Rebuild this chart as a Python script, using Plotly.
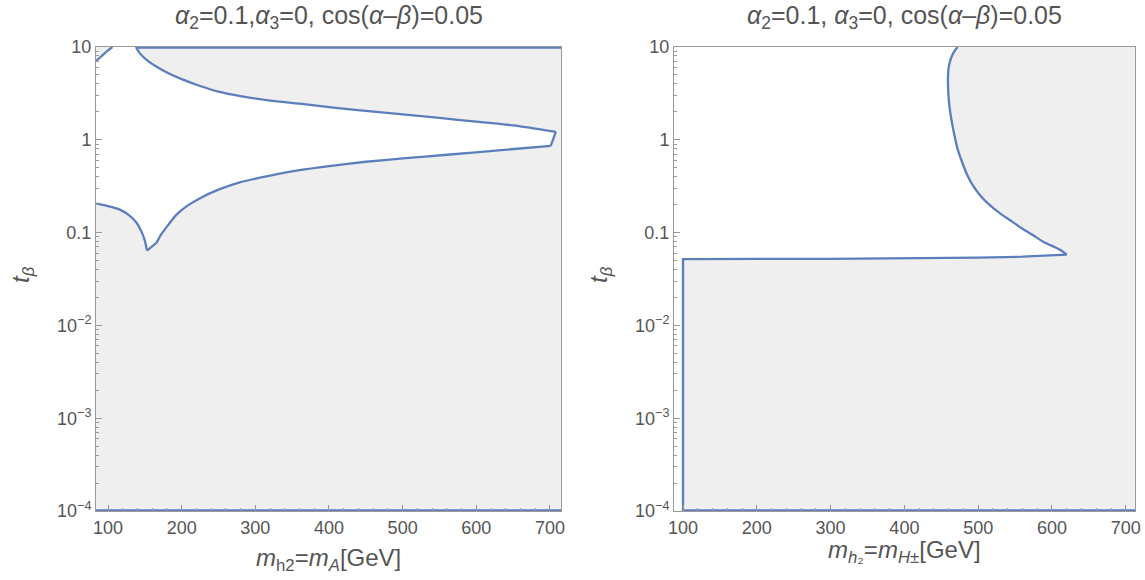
import plotly.graph_objects as go

# ---------------- data ----------------
# Left panel: lower boundary of the allowed band
left_lower_x = [84, 100, 116, 128, 139, 146, 150, 153, 166, 172, 180, 193, 208, 225, 250, 280, 320,
                360, 400, 450, 500, 560, 630, 701]
left_lower_y = [0.205, 0.193, 0.177, 0.155, 0.127, 0.10, 0.082, 0.064, 0.078, 0.095, 0.116, 0.156,
                0.195, 0.235, 0.29, 0.35, 0.41, 0.47, 0.52, 0.58, 0.63, 0.69, 0.77, 0.86]
# Left panel: upper boundary of the allowed band (from right tip back to the top edge)
left_upper_x = [708, 650, 600, 550, 500, 450, 400, 360, 320, 280, 250, 225, 200, 180, 165, 155, 148,
                142, 138]
left_upper_y = [1.22, 1.43, 1.57, 1.72, 1.88, 2.05, 2.25, 2.45, 2.65, 2.95, 3.3, 3.8, 4.5, 5.3, 6.2,
                7.0, 7.8, 8.8, 10.0]
# Left panel: small top-left excluded corner
left_corner_x = [84, 90, 95, 100, 106]
left_corner_y = [7.1, 7.8, 8.5, 9.2, 10.0]

# Right panel: boundary (vertical wall, nearly flat floor, then the curve up to the top)
right_wall_x = [100, 100]
right_wall_y = [1e-4, 0.0518]
right_floor_x = [100, 300, 420, 500, 560, 600, 620]
right_floor_y = [0.0518, 0.0522, 0.0528, 0.0537, 0.0550, 0.0563, 0.058]
right_curve_x = [620, 614, 605, 590, 574, 560, 545, 530, 515, 503, 493, 485, 478, 472, 468, 464, 461,
                 459.5, 459, 460, 463, 467, 472]
right_curve_y = [0.058, 0.063, 0.069, 0.078, 0.094, 0.11, 0.133, 0.16, 0.2, 0.25, 0.32, 0.42, 0.58,
                 0.8, 1.1, 1.6, 2.3, 3.2, 4.5, 6.0, 7.5, 8.8, 10.0]

x_ticks = [100, 200, 300, 400, 500, 600, 700]
y_tickvals = [1e-4, 1e-3, 1e-2, 0.1, 1, 10]
y_ticktext = ["10<sup>−4</sup>", "10<sup>−3</sup>", "10<sup>−2</sup>", "0.1", "1", "10"]

left_title = "<i>α</i><sub>2</sub>=0.1,<i>α</i><sub>3</sub>=0, cos(<i>α</i>–<i>β</i>)=0.05"
right_title = "<i>α</i><sub>2</sub>=0.1, <i>α</i><sub>3</sub>=0, cos(<i>α</i>–<i>β</i>)=0.05"
left_xlabel = "<i>m</i><sub>h2</sub>=<i>m</i><sub><i>A</i></sub>[GeV]"
right_xlabel = "<i>m</i><sub><i>h</i>₂</sub>=<i>m</i><sub><i>H</i>±</sub>[GeV]"
y_label = "<i>t</i><sub><i>β</i></sub>"

left_xrange = [83.7, 715]
right_xrange = [87.8, 712.5]
y_min, y_max = 1e-4, 10

# ---------------- styling ----------------
BLUE = "#5b7fbd"
GREY_BG = "#efefef"
FRAME = "#9a9a9a"
TXT = "#555555"
FONT = "Liberation Sans, Arial, sans-serif"

fig = go.Figure()


def line(x, y, xa, ya, width=2.3, shape="linear"):
    fig.add_trace(go.Scatter(x=x, y=y, mode="lines", line=dict(color=BLUE, width=width, shape=shape,
                                                                 smoothing=0.6),
                             xaxis=xa, yaxis=ya, showlegend=False, hoverinfo="skip"))


# Left panel allowed (white) region
lx = (left_lower_x + left_upper_x + left_corner_x[::-1] + [left_lower_x[0]])
ly = (left_lower_y + left_upper_y + left_corner_y[::-1] + [left_lower_y[0]])
fig.add_trace(go.Scatter(x=lx, y=ly, fill="toself", fillcolor="white", mode="lines",
                         line=dict(width=0, color="white"), xaxis="x", yaxis="y",
                         hoverinfo="skip", showlegend=False))
# Left panel boundaries (smooth pieces split at the cusp, the kink and the right tip)
cusp = left_lower_x.index(153)
kink = left_lower_x.index(166)
line(left_lower_x[:cusp + 1], left_lower_y[:cusp + 1], "x", "y", shape="spline")
line(left_lower_x[cusp:kink + 1], left_lower_y[cusp:kink + 1], "x", "y")
line(left_lower_x[kink:], left_lower_y[kink:], "x", "y", shape="spline")
line([left_lower_x[-1], left_upper_x[0]], [left_lower_y[-1], left_upper_y[0]], "x", "y")
line(left_upper_x, left_upper_y, "x", "y", shape="spline")
line([left_upper_x[-1], left_xrange[1]], [y_max, y_max], "x", "y", width=3.5)
line(left_corner_x, left_corner_y, "x", "y", shape="spline")
line([left_xrange[0], left_xrange[1]], [y_min, y_min], "x", "y", width=3.5)

# Right panel allowed (white) region
rx = ([right_xrange[0], right_wall_x[0]] + right_wall_x[1:] + right_floor_x[1:] + right_curve_x[1:] +
      [right_xrange[0]])
ry = ([y_min, right_wall_y[0]] + right_wall_y[1:] + right_floor_y[1:] + right_curve_y[1:] + [y_max])
fig.add_trace(go.Scatter(x=rx, y=ry, fill="toself", fillcolor="white", mode="lines",
                         line=dict(width=0, color="white"), xaxis="x2", yaxis="y2",
                         hoverinfo="skip", showlegend=False))
line(right_wall_x + right_floor_x[1:], right_wall_y + right_floor_y[1:], "x2", "y2")
line(right_curve_x, right_curve_y, "x2", "y2", shape="spline")
line([right_wall_x[0], right_xrange[1]], [y_min, y_min], "x2", "y2", width=3.5)

minor_y = [m * 10 ** e for e in range(-4, 1) for m in range(2, 10)]


def xaxis_cfg(domain, rng, anchor):
    return dict(domain=domain, range=rng, tickvals=x_ticks, ticks="inside", ticklen=6,
                tickcolor=FRAME, showgrid=False, zeroline=False, showline=True, linecolor=FRAME,
                linewidth=1, mirror=True, tickfont=dict(family=FONT, size=18, color=TXT),
                minor=dict(tickvals=list(range(120, 720, 20)), ticks="inside", ticklen=3, tickcolor=FRAME),
                fixedrange=True, automargin=False, anchor=anchor)


def yaxis_cfg(domain, anchor):
    return dict(domain=domain, type="log", range=[-4, 1], tickvals=y_tickvals, ticktext=y_ticktext,
                ticks="inside", ticklen=6, tickcolor=FRAME, showgrid=False, zeroline=False,
                showline=True, linecolor=FRAME, linewidth=1, mirror=True, anchor=anchor,
                tickfont=dict(family=FONT, size=18, color=TXT),
                minor=dict(tickvals=minor_y, ticks="inside", ticklen=3, tickcolor=FRAME),
                fixedrange=True, automargin=False)


W, H = 1145, 580
ydom = [1 - 511 / H, 1 - 47 / H]
fig.update_layout(
    width=W, height=H, margin=dict(l=0, r=0, t=0, b=0, autoexpand=False),
    paper_bgcolor="white", plot_bgcolor=GREY_BG,
    xaxis=xaxis_cfg([96 / W, 561 / W], left_xrange, "y"),
    yaxis=yaxis_cfg(ydom, "x"),
    xaxis2=xaxis_cfg([674 / W, 1135 / W], right_xrange, "y2"),
    yaxis2=yaxis_cfg(ydom, "x2"),
    showlegend=False,
)

anns = [
    dict(text=left_title, x=(96 + 561) / 2 / W, y=1 - 17 / H, size=25),
    dict(text=right_title, x=(674 + 1135) / 2 / W, y=1 - 17 / H, size=25),
    dict(text=left_xlabel, x=(96 + 561) / 2 / W, y=1 - 559 / H, size=24),
    dict(text=right_xlabel, x=(674 + 1135) / 2 / W, y=1 - 551 / H, size=24),
    dict(text=y_label, x=22 / W, y=1 - 275 / H, textangle=-90, size=24),
    dict(text=y_label, x=600 / W, y=1 - 275 / H, textangle=-90, size=24),
]
for a in anns:
    size = a.pop("size")
    fig.add_annotation(xref="paper", yref="paper", xanchor="center", yanchor="middle",
                       showarrow=False, font=dict(family=FONT, size=size, color=TXT), **a)

fig.write_html("out.html")
